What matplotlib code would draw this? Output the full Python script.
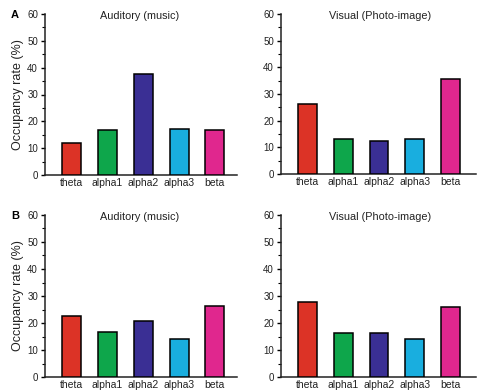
import matplotlib
matplotlib.use("Agg")
import matplotlib.pyplot as plt
from matplotlib.ticker import MultipleLocator

plt.rcParams['font.family'] = ['Liberation Sans', 'DejaVu Sans']

categories = ["theta", "alpha1", "alpha2", "alpha3", "beta"]
a_auditory = [12.0, 16.7, 37.7, 17.0, 16.6]
a_visual = [26.3, 13.3, 12.3, 13.0, 35.6]
b_auditory = [22.5, 16.6, 20.7, 14.2, 26.2]
b_visual = [27.7, 16.3, 16.4, 14.0, 25.8]
colors = ["#dc3326", "#0ea64b", "#3a2f94", "#19aedf", "#e0278e"]
titles = ["Auditory (music)", "Visual (Photo-image)"]

W, H = 478, 391
fig = plt.figure(figsize=(W / 100, H / 100), dpi=100)

def add_ax(x0, x1, ytop, ybot):
    return fig.add_axes([x0 / W, 1 - ybot / H, (x1 - x0) / W, (ybot - ytop) / H])

panels = [
    (add_ax(45, 237, 14, 175), a_auditory, titles[0], True, "A", 14),
    (add_ax(281, 476, 14, 174), a_visual, titles[1], False, None, 14),
    (add_ax(45, 237, 215, 377), b_auditory, titles[0], True, "B", 215),
    (add_ax(281, 476, 215, 377), b_visual, titles[1], False, None, 215),
]

x = list(range(len(categories)))
for ax, vals, title, ylab, letter, ytop in panels:
    ax.bar(x, vals, width=0.53, color=colors, edgecolor="black", linewidth=1.1, zorder=3)
    ax.set_ylim(0, 60)
    ax.set_xlim(-0.75, 4.62 if ylab else 4.72)
    ax.set_xticks(x)
    ax.set_xticklabels(categories, fontsize=7.5, color="#222222")
    ax.tick_params(axis="x", length=0, pad=2)
    ax.yaxis.set_major_locator(MultipleLocator(10))
    ax.yaxis.set_minor_locator(MultipleLocator(5))
    ax.tick_params(axis="y", which="major", length=3, width=1, direction="out",
                   labelsize=7, labelcolor="#222222", pad=2)
    ax.tick_params(axis="y", which="minor", length=2, width=0.8, direction="out")
    for s in ["top", "right"]:
        ax.spines[s].set_visible(False)
    for s in ["left", "bottom"]:
        ax.spines[s].set_linewidth(1.1)
        ax.spines[s].set_color("#222222")
    ax.text(0.49 if ylab else 0.51, 0.985, title, transform=ax.transAxes,
            ha="center", va="center", fontsize=7.8, color="#222222")
    if ylab:
        ax.set_ylabel("Occupancy rate (%)", fontsize=9, color="#222222", labelpad=2)
    if letter:
        fig.text(15 / W, 1 - (ytop + 1) / H, letter, fontsize=8, fontweight="bold",
                 ha="center", va="center")

fig.savefig("out.png", dpi=100, facecolor="white")
